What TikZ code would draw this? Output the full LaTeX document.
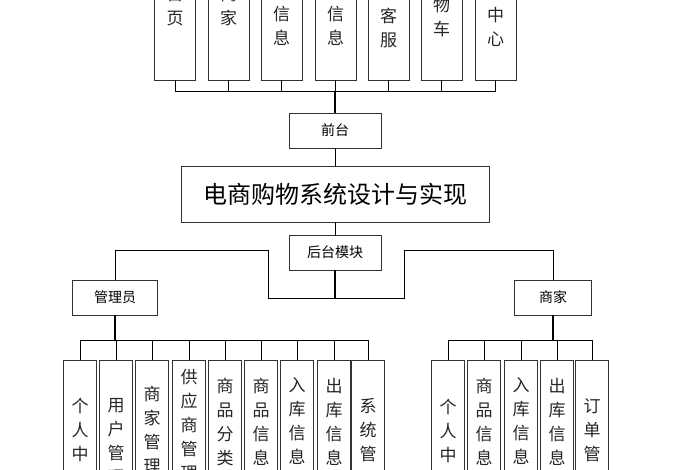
\documentclass[tikz,border=0pt]{standalone}
\usepackage{fontspec}
\setmainfont{Noto Sans CJK SC}
\begin{document}
\begin{tikzpicture}[x=1pt,y=-1pt,line width=0.9pt,
  box/.style={draw=black!80,fill=white,inner sep=0pt},
  col/.style={box,minimum width=41pt,minimum height=100pt},
  kid/.style={box,minimum width=33pt,minimum height=140pt,anchor=north},
  vtext/.style={anchor=center,align=center,font=\fontsize{17}{24}\selectfont,text=black!85}]
  \clip (0,0) rectangle (700,470);
  \fill[white] (0,0) rectangle (700,470);

  % front end modules
  \foreach \n/\x in {1/175,2/228.5,3/281.5,4/335.5,5/388.5,6/441.5,7/495.5}{
    \node[col] (t\n) at (\x,30) {};
  }
  \node[vtext] at (175,6) {首\\页};
  \node[vtext] at (228.5,6) {商\\家};
  \node[vtext] at (281.5,14) {品\\信\\息};
  \node[vtext] at (335.5,14) {户\\信\\息};
  \node[vtext] at (388.5,16) {线\\客\\服};
  \node[vtext] at (441.5,5) {购\\物\\车};
  \node[vtext] at (495.5,15) {人\\中\\心};
  \foreach \n in {1,...,7}{
    \draw (t\n.south) -- (t\n.south |- 0,91);
  }
  \draw (t1.south |- 0,91) -- (t7.south |- 0,91);

  % centre
  \node[box,minimum width=92pt,minimum height=35pt,font=\fontsize{14}{14}\selectfont] (front) at (335,130.5) {前台};
  \node[box,minimum width=308pt,minimum height=56pt,font=\fontsize{24}{24}\selectfont] (main) at (335,194) {电商购物系统设计与实现};
  \node[box,minimum width=92pt,minimum height=35pt,font=\fontsize{14}{14}\selectfont] (back) at (335,252.5) {后台模块};
  \draw[line width=1.6pt] (335,91) -- (front.north);
  \draw (front) -- (main);
  \draw (main) -- (back);

  % back end
  \node[box,minimum width=85pt,minimum height=35pt,font=\fontsize{14}{14}\selectfont] (admin) at (115,297.5) {管理员};
  \node[box,minimum width=77pt,minimum height=35pt,font=\fontsize{14}{14}\selectfont] (seller) at (553,297.5) {商家};
  \draw (admin.north) |- (268,250) -- (268,298) -- (404,298) -- (404,250) -| (seller.north);
  \draw[line width=1.6pt] (back.south) -- (335,298);

  % admin modules
  \foreach \n/\x/\y/\t in {1/80/407/个\\人\\中\\心, 2/116/408/用\\户\\管\\理, 3/152/395/商\\家\\管\\理,
    4/189/378/供\\应\\商\\管\\理, 5/225/387/商\\品\\分\\类, 6/261/387/商\\品\\信\\息,
    7/297/387/入\\库\\信\\息, 8/334/387/出\\库\\信\\息, 9/368/408/系\\统\\管\\理}{
    \node[kid] (a\n) at (\x,360) {};
    \node[vtext,anchor=north] at (\x,\y-13) {\t};
    \draw (a\n.north) -- (a\n.north |- 0,340);
  }
  \draw (a1.north |- 0,340) -- (a9.north |- 0,340);
  \draw[line width=1.6pt] (admin.south) -- (admin.south |- 0,340);

  % seller modules
  \foreach \n/\x/\y/\t in {1/448/408/个\\人\\中\\心, 2/484/387/商\\品\\信\\息,
    3/521/387/入\\库\\信\\息, 4/557/387/出\\库\\信\\息, 5/592/408/订\\单\\管\\理}{
    \node[kid] (s\n) at (\x,360) {};
    \node[vtext,anchor=north] at (\x,\y-13) {\t};
    \draw (s\n.north) -- (s\n.north |- 0,340);
  }
  \draw (s1.north |- 0,340) -- (s5.north |- 0,340);
  \draw[line width=1.6pt] (seller.south) -- (seller.south |- 0,340);
\end{tikzpicture}
\end{document}
